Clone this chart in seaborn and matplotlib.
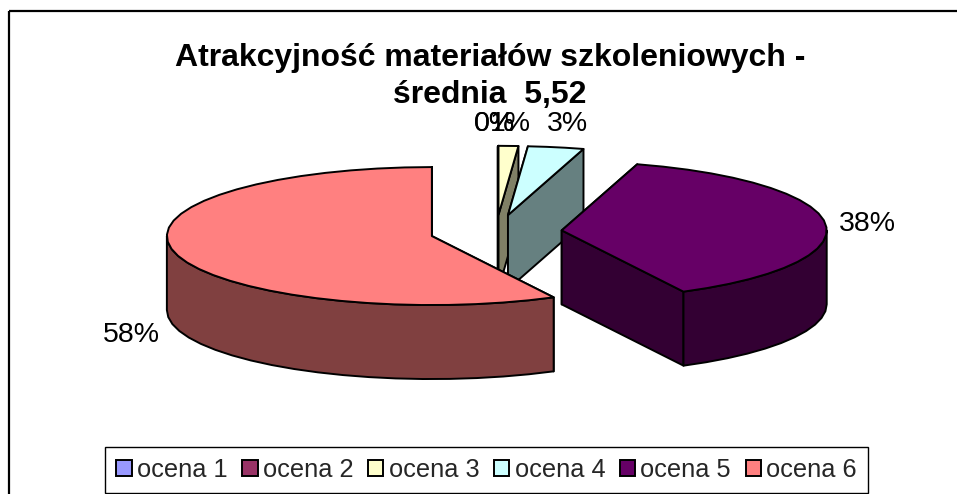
"""Exploded 3D style pie chart of training material ratings."""

import numpy as np
import seaborn as sns
import matplotlib.pyplot as plt
from matplotlib.patches import Patch, Polygon, Rectangle

# the data
categories = ["ocena 1", "ocena 2", "ocena 3", "ocena 4", "ocena 5", "ocena 6"]
shares = [0.0, 0.0, 1.2, 3.4, 37.8, 57.6]
title = "Atrakcyjność materiałów szkoleniowych -\nśrednia  5,52"

sns.set_theme(style="white")
plt.rcParams["font.family"] = ["Liberation Sans", "DejaVu Sans"]

palette = sns.color_palette(["#9999FF", "#993366", "#FFFFCC",
                             "#CCFFFF", "#660066", "#FF8080"])

# figure in pixel units, y going down like the picture
fig = plt.figure(figsize=(9.57, 4.94), dpi=100)
ax = fig.add_axes([0, 0, 1, 1])
ax.set_xlim(0, 957)
ax.set_ylim(494, 0)
ax.axis("off")

# pie geometry
base_x, base_y = 496, 232
rx, ry = 265, 69
depth = 74
explode = 66
line = dict(edgecolor="black", joinstyle="round")
lw = 1.4

# chart area frame runs off the right and bottom of the image
ax.add_patch(Rectangle((9, 11), 1200, 800, fill=False,
                       edgecolor="black", linewidth=1.6))


def rim(cx, cy, start, stop, drop=0):
    """Points on the ellipse, angles clockwise from 12 o'clock."""
    t = np.radians(np.linspace(start, stop, max(2, int((stop - start) / 6) + 2)))
    return np.column_stack([cx + rx * np.sin(t), cy - ry * np.cos(t) + drop])


# angles follow from the shares
edges = np.cumsum([0] + shares) / sum(shares) * 360

# back slices first, so the front ones cover them
for i in [2, 3, 4, 5]:
    a, b = edges[i], edges[i + 1]
    mid = np.radians((a + b) / 2)
    cx = base_x + explode * np.sin(mid)
    cy = base_y - explode * np.cos(mid) * ry / rx
    top = rim(cx, cy, a, b)
    dark = tuple(c * 0.5 for c in palette[i])

    # the two cut faces, the one seen edge on at 12 o'clock looks heavier
    for p, width in [(top[0], 2.4 if a == 0 else lw), (top[-1], lw)]:
        face = [(cx, cy), p, p + (0, depth), (cx, cy + depth)]
        ax.add_patch(Polygon(face, facecolor=dark, linewidth=width, **line))

    # outer wall, only the front half of the ellipse shows
    lo, hi = max(a, 90), min(b, 270)
    if lo < hi:
        wall = np.vstack([rim(cx, cy, lo, hi),
                          rim(cx, cy, lo, hi, depth)[::-1]])
        ax.add_patch(Polygon(wall, facecolor=dark, linewidth=lw, **line))

    # top surface
    ax.add_patch(Polygon(np.vstack([[(cx, cy)], top]),
                         facecolor=palette[i], linewidth=lw, **line))

# percent labels, placed by hand as in the original
label_pos = [(494, 123.5), (494, 123.5), (510, 123.5), (567, 123.5), (867, 223.5), (131, 334.5)]
for share, (x, y) in zip(shares, label_pos):
    ax.text(x, y, f"{share:.0f}%", fontsize=20.5, color="black",
            ha="center", va="center")

ax.text(490, 76.5, title, fontsize=23, fontweight="bold", color="black",
        ha="center", va="center", linespacing=1.31)

handles = [Patch(facecolor=c, edgecolor="black", linewidth=1.4) for c in palette]
ax.legend(handles, categories, ncol=6, fontsize=18.3,
          loc="center", bbox_to_anchor=(486.5, 470), bbox_transform=ax.transData,
          frameon=True, fancybox=False, framealpha=1, edgecolor="black",
          handlelength=0.62, handleheight=0.62, handletextpad=0.2,
          columnspacing=0.57, borderpad=0.45, borderaxespad=0)

fig.savefig("out.png", dpi=100)
